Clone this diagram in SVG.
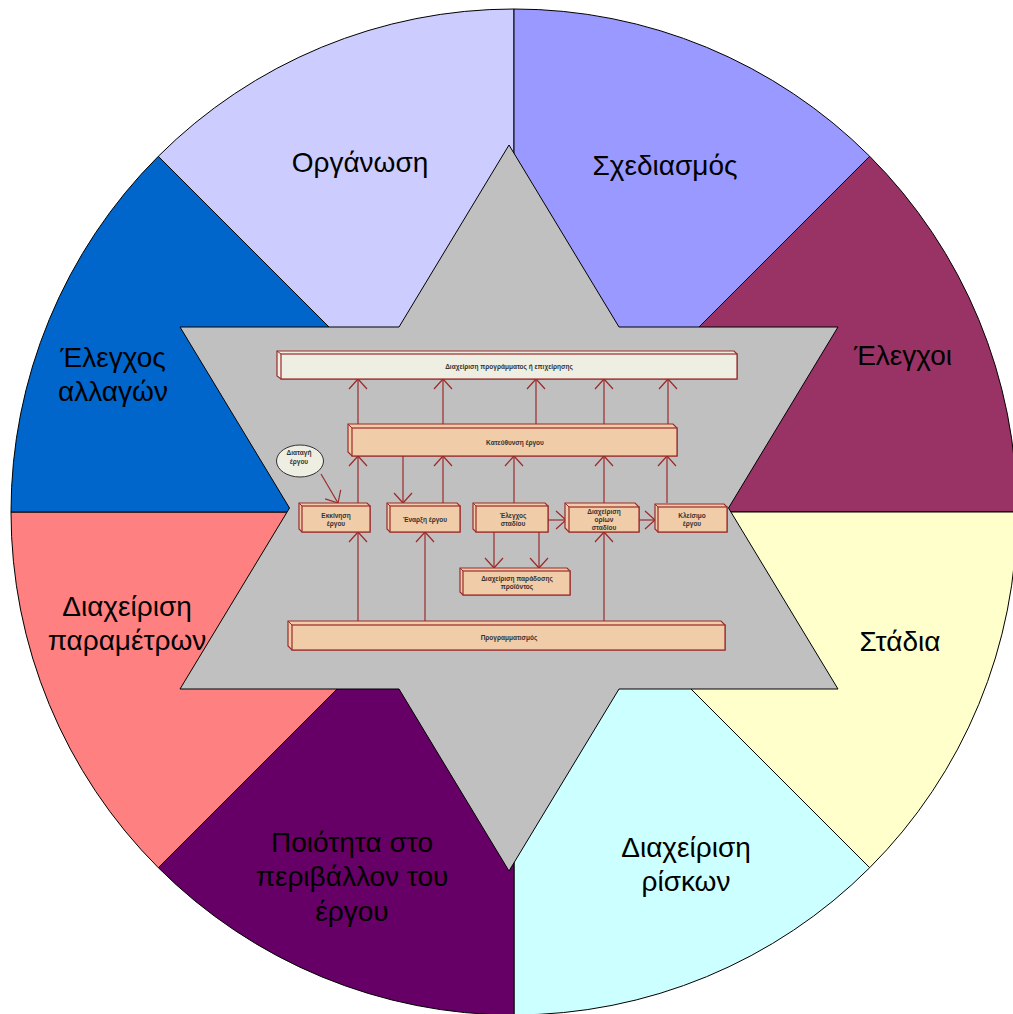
<svg xmlns="http://www.w3.org/2000/svg" width="1013" height="1014" viewBox="0 0 1013 1014">
<defs>
<style>
.sec{stroke:#000;stroke-width:1}
.big{font-family:"Liberation Sans",Arial,sans-serif;font-size:28px;fill:#000;text-anchor:middle}
.box{fill:#F0CCA8;stroke:#9B2A2A;stroke-width:1.2}
.box2{fill:#EEEEE2;stroke:#9B2A2A;stroke-width:1.2}
.sm{font-family:"Liberation Sans",Arial,sans-serif;font-size:6.5px;font-weight:bold;fill:#333;text-anchor:middle}
.con line{stroke:#9B2A2A;stroke-width:1.2;marker-end:url(#ah)}
</style>
<marker id="ah" viewBox="-12 -11 14 22" refX="0" refY="0" markerWidth="14" markerHeight="22" markerUnits="userSpaceOnUse" orient="auto">
<path d="M-10,-9 L0,0 L-10,9" fill="none" stroke="#9B2A2A" stroke-width="1.2"/>
</marker>
</defs>
<rect width="1013" height="1014" fill="#fff"/>
<g id="wheel">
<path class="sec" fill="#CCCCFF" d="M514,512 L158.3,156.3 A503,503 0 0 1 514,9 Z"/>
<path class="sec" fill="#9999FF" d="M514,512 L514,9 A503,503 0 0 1 869.7,156.3 Z"/>
<path class="sec" fill="#993366" d="M514,512 L869.7,156.3 A503,503 0 0 1 1017,512 Z"/>
<path class="sec" fill="#FFFFCC" d="M514,512 L1017,512 A503,503 0 0 1 869.7,867.7 Z"/>
<path class="sec" fill="#CCFFFF" d="M514,512 L869.7,867.7 A503,503 0 0 1 514,1015 Z"/>
<path class="sec" fill="#660066" d="M514,512 L514,1015 A503,503 0 0 1 158.3,867.7 Z"/>
<path class="sec" fill="#FF8080" d="M514,512 L158.3,867.7 A503,503 0 0 1 11,512 Z"/>
<path class="sec" fill="#0066CC" d="M514,512 L11,512 A503,503 0 0 1 158.3,156.3 Z"/>
</g>
<g id="labels">
<text class="big" x="360" y="172">Οργάνωση</text>
<text class="big" x="665" y="175">Σχεδιασμός</text>
<text class="big" x="903" y="365">Έλεγχοι</text>
<text class="big" x="900" y="651">Στάδια</text>
<text class="big" x="686" y="857">Διαχείριση</text>
<text class="big" x="686" y="891">ρίσκων</text>
<text class="big" x="352" y="852">Ποιότητα στο</text>
<text class="big" x="352" y="886">περιβάλλον του</text>
<text class="big" x="352" y="921">έργου</text>
<text class="big" x="127" y="616">Διαχείριση</text>
<text class="big" x="127" y="650">παραμέτρων</text>
<text class="big" x="113" y="367">Έλεγχος</text>
<text class="big" x="113" y="401">αλλαγών</text>
</g>
<polygon id="star" fill="#C0C0C0" stroke="#000" stroke-width="1" points="509,145 619,327 838,327 728.5,508 838,689 619,689 509,871 399,689 180,689 289.5,508 180,327 399,327"/>
<g id="connectors" class="con">
<line x1="358" y1="424" x2="358" y2="379"/>
<line x1="443" y1="424" x2="443" y2="379"/>
<line x1="536" y1="424" x2="536" y2="379"/>
<line x1="604" y1="424" x2="604" y2="379"/>
<line x1="668" y1="424" x2="668" y2="379"/>
<line x1="358" y1="503" x2="358" y2="456"/>
<line x1="403" y1="456" x2="403" y2="503"/>
<line x1="443" y1="503" x2="443" y2="456"/>
<line x1="514" y1="503" x2="514" y2="456"/>
<line x1="604" y1="503" x2="604" y2="456"/>
<line x1="667" y1="503" x2="667" y2="456"/>
<line x1="321" y1="474" x2="338" y2="503"/>
<line x1="548" y1="520" x2="566" y2="520"/>
<line x1="639" y1="520" x2="655" y2="520"/>
<line x1="494" y1="532" x2="494" y2="568"/>
<line x1="539" y1="532" x2="539" y2="568"/>
<line x1="358" y1="622" x2="358" y2="532"/>
<line x1="425" y1="622" x2="425" y2="532"/>
<line x1="604" y1="622" x2="604" y2="532"/>
</g>
<g id="n-programme">
<polygon class="box2" points="277,351 734,351 737,354 737,379 281,379 277,376"/>
<rect class="box2" x="281" y="354" width="456" height="25"/>
<line x1="277" y1="351" x2="281" y2="354" stroke="#9B2A2A"/>
<text class="sm" x="509" y="369">Διαχείριση προγράμματος ή επιχείρησης</text>
</g>
<g id="n-direction">
<polygon class="box" points="348,424 673,424 677,428 677,456 352,456 348,452"/>
<rect class="box" x="352" y="428" width="325" height="28"/>
<line x1="348" y1="424" x2="352" y2="428" stroke="#9B2A2A"/>
<text class="sm" x="515" y="445">Κατεύθυνση έργου</text>
</g>
<g id="n-order">
<ellipse cx="300" cy="461" rx="23.5" ry="16" fill="#EEEEE2" stroke="#333" stroke-width="1"/>
<text class="sm" x="299" y="455">Διαταγή</text>
<text class="sm" x="299" y="464">έργου</text>
</g>
<g id="n-start">
<polygon class="box" points="299,503 367,503 370,506 370,532 302,532 299,529"/>
<rect class="box" x="302" y="506" width="68" height="26"/>
<line x1="299" y1="503" x2="302" y2="506" stroke="#9B2A2A"/>
<text class="sm" x="336" y="518">Εκκίνηση</text>
<text class="sm" x="336" y="526">έργου</text>
</g>
<g id="n-initiate">
<polygon class="box" points="387,503 457,503 460,506 460,532 390,532 387,529"/>
<rect class="box" x="390" y="506" width="70" height="26"/>
<line x1="387" y1="503" x2="390" y2="506" stroke="#9B2A2A"/>
<text class="sm" x="425" y="522">Έναρξη έργου</text>
</g>
<g id="n-stagecontrol">
<polygon class="box" points="473,503 545,503 548,506 548,532 476,532 473,529"/>
<rect class="box" x="476" y="506" width="72" height="26"/>
<line x1="473" y1="503" x2="476" y2="506" stroke="#9B2A2A"/>
<text class="sm" x="513" y="518">Έλεγχος</text>
<text class="sm" x="513" y="526">σταδίου</text>
</g>
<g id="n-stageboundary">
<polygon class="box" points="565,503 635,503 639,507 639,532 569,532 565,528"/>
<rect class="box" x="569" y="507" width="70" height="25"/>
<line x1="565" y1="503" x2="569" y2="507" stroke="#9B2A2A"/>
<text class="sm" x="604" y="514">Διαχείριση</text>
<text class="sm" x="604" y="522">ορίων</text>
<text class="sm" x="604" y="530">σταδίου</text>
</g>
<g id="n-close">
<polygon class="box" points="655,504 724,504 727,507 727,532 658,532 655,529"/>
<rect class="box" x="658" y="507" width="69" height="25"/>
<line x1="655" y1="504" x2="658" y2="507" stroke="#9B2A2A"/>
<text class="sm" x="692" y="518">Κλείσιμο</text>
<text class="sm" x="692" y="526">έργου</text>
</g>
<g id="n-delivery">
<polygon class="box" points="460,568 567,568 570,571 570,595 463,595 460,592"/>
<rect class="box" x="463" y="571" width="107" height="24"/>
<line x1="460" y1="568" x2="463" y2="571" stroke="#9B2A2A"/>
<text class="sm" x="517" y="581">Διαχείριση παράδοσης</text>
<text class="sm" x="517" y="589">προϊόντος</text>
</g>
<g id="n-planning">
<polygon class="box" points="288,621 721,621 725,625 725,650 292,650 288,646"/>
<rect class="box" x="292" y="625" width="433" height="25"/>
<line x1="288" y1="621" x2="292" y2="625" stroke="#9B2A2A"/>
<text class="sm" x="509" y="640">Προγραμματισμός</text>
</g>
</svg>
